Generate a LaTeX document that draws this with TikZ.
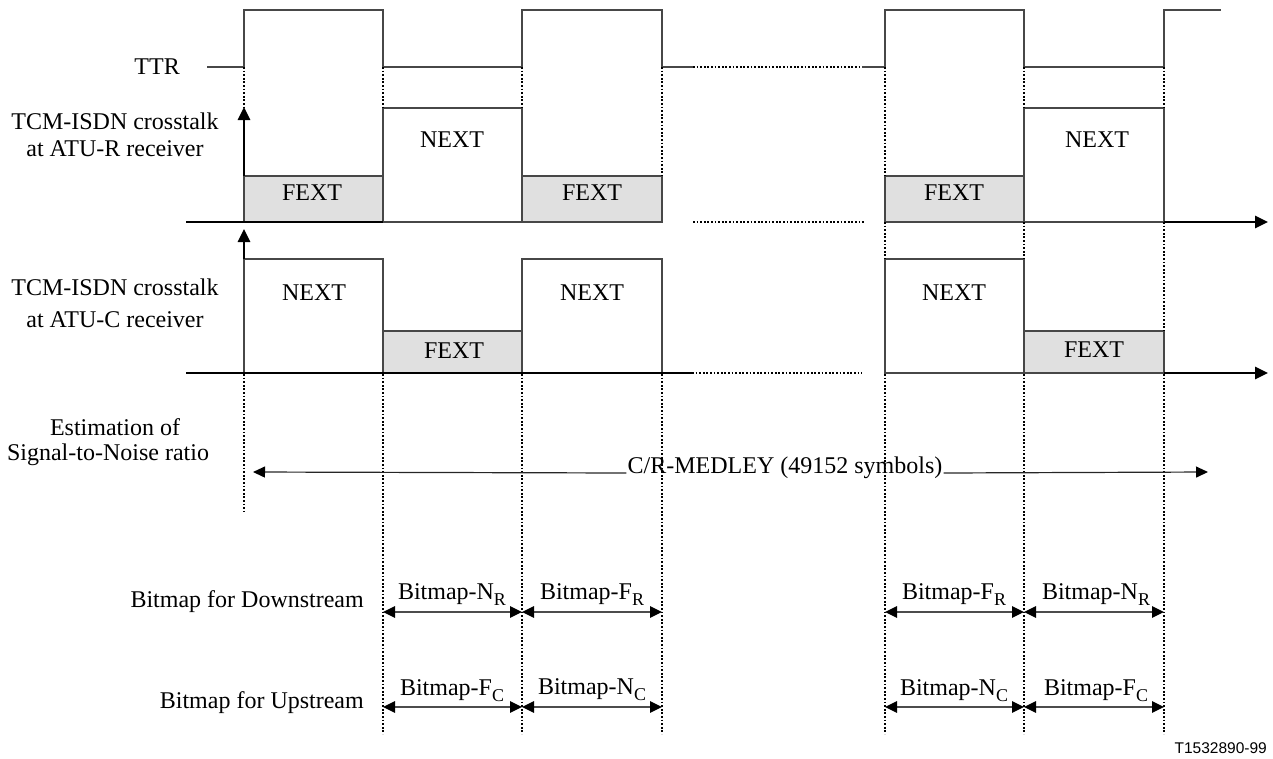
\documentclass[tikz,border=0pt]{standalone}
\usepackage{fontspec}
\setmainfont{Liberation Serif}
\newfontfamily\sansf{Liberation Sans}
\usetikzlibrary{arrows.meta}
\newcommand\bsub[1]{\raisebox{-6.5pt}{\fontsize{18}{18}\selectfont #1}}
\begin{document}
\begin{tikzpicture}[x=1pt,y=-1pt,
  lbl/.style={font=\fontsize{24}{26}\selectfont, inner sep=0pt},
  sig/.style={line width=1.4pt, draw=black!72},
  boxn/.style={line width=1.4pt, draw=black!72, fill=white},
  boxf/.style={line width=1.4pt, draw=black!72, fill=black!12},
  axln/.style={line width=2.6pt, black},
  axarrow/.style={line width=2.6pt, black, -{Triangle[length=13pt,width=12pt]}},
  dotln/.style={line width=2pt, dash pattern=on 1.8pt off 1.8pt, black},
  thinarrow/.style={line width=1.2pt, draw=black!85, -{Triangle[length=12pt,width=11pt,color=black]}},
  dbl/.style={line width=1.3pt, draw=black!70, {Triangle[length=12pt,width=11.5pt,color=black]}-{Triangle[length=12pt,width=11.5pt,color=black]}},
]
\useasboundingbox (0,0) rectangle (1273,758);

% ---------- TTR signal ----------
\node[lbl, anchor=base east] (ttr) at (180,74) {TTR};
\draw[sig] (207,67) -- (244,67) -- (244,10) -- (383,10) -- (383,67) -- (522,67)
  -- (522,10) -- (662,10) -- (662,67) -- (693,67);
\draw[dotln] (693,67) -- (862,67);
\draw[sig] (862,67) -- (885,67) -- (885,10) -- (1024,10) -- (1024,67) -- (1164,67)
  -- (1164,10) -- (1221,10);

% ---------- ATU-R crosstalk ----------
\node[lbl, anchor=base] (ra) at (115,129) {TCM-ISDN crosstalk};
\node[lbl, anchor=base] (rb) at (115,156) {at ATU-R receiver};
\draw[boxf] (244,176) rectangle (383,222);
\draw[boxn] (383,108) rectangle (522,222);
\draw[boxf] (522,176) rectangle (662,222);
\draw[boxf] (885,176) rectangle (1024,222);
\draw[boxn] (1024,108) rectangle (1164,222);
\node[lbl, anchor=base] (rf1) at (312,200) {FEXT};
\node[lbl, anchor=base] (rn1) at (452,147) {NEXT};
\node[lbl, anchor=base] (rf2) at (592,200) {FEXT};
\node[lbl, anchor=base] (rf3) at (954,200) {FEXT};
\node[lbl, anchor=base] (rn2) at (1097,147) {NEXT};
\coordinate (uL) at (186,222);
\coordinate (uA) at (244,222);
\coordinate (uE) at (1164,222);
\coordinate (uR) at (1268,222);
\draw[axln] (uL) -- (uA);
\draw[axln] (244,222) -- (383,222);
\draw[dotln] (693,222) -- (865,222);
\draw[axarrow] (uE) -- (uR);
\draw[axarrow] (244,176) -- (244,107);

% ---------- ATU-C crosstalk ----------
\node[lbl, anchor=base] (ca) at (115,295) {TCM-ISDN crosstalk};
\node[lbl, anchor=base] (cb) at (115,327) {at ATU-C receiver};
\draw[boxn] (244,259) rectangle (383,373);
\draw[boxf] (383,331) rectangle (522,373);
\draw[boxn] (522,259) rectangle (662,373);
\draw[boxn] (885,259) rectangle (1024,373);
\draw[boxf] (1024,331) rectangle (1164,373);
\node[lbl, anchor=base] (cn1) at (314,300) {NEXT};
\node[lbl, anchor=base] (cf1) at (454,358) {FEXT};
\node[lbl, anchor=base] (cn2) at (592,300) {NEXT};
\node[lbl, anchor=base] (cn3) at (954,300) {NEXT};
\node[lbl, anchor=base] (cf2) at (1094,357) {FEXT};
\coordinate (lL) at (186,373);
\coordinate (lA) at (244,373);
\coordinate (lE) at (1164,373);
\coordinate (lR) at (1268,373);
\draw[axln] (lL) -- (lA);
\draw[axln] (244,373) -- (662,373);
\draw[axln] (662,373) -- (692,373);
\draw[dotln] (692,373) -- (862,373);
\draw[axarrow] (lE) -- (lR);
\draw[axarrow] (244,259) -- (244,229);

% ---------- dotted verticals ----------
\draw[dotln] (244,67) -- (244,107);
\draw[dotln] (244,374) -- (244,511);
\foreach \x in {383,522,1024,1164} { \draw[dotln] (\x,67) -- (\x,108); }
\foreach \x in {662,885} { \draw[dotln] (\x,67) -- (\x,176); }
\draw[dotln] (885,222) -- (885,259);
\draw[dotln] (1024,222) -- (1024,259);
\draw[dotln] (1164,222) -- (1164,331);
\foreach \x in {383,522,662,885,1024,1164} { \draw[dotln] (\x,374) -- (\x,734); }

% ---------- SNR estimation ----------
\node[lbl, anchor=base] (sa) at (115,435) {Estimation of};
\node[lbl, anchor=base] (sb) at (108,460) {Signal-to-Noise ratio};
\node[lbl, anchor=base, inner sep=1pt] (medley) at (785,473) {C/R-MEDLEY (49152 symbols)};
\coordinate (mL) at (253,472);
\coordinate (mR) at (1208,472);
\draw[thinarrow] (medley.base west) -- (mL);
\draw[thinarrow] (medley.base east) -- (mR);

% ---------- Bitmaps ----------
\node[lbl, anchor=base east] (bd) at (364,607) {Bitmap for Downstream};
\node[lbl, anchor=base east] (bu) at (364,708) {Bitmap for Upstream};
\foreach \a/\b/\n in {383/522/1,522/662/2,885/1024/3,1024/1164/4} {
  \coordinate (d\n L) at (\a,612);
  \coordinate (d\n R) at (\b,612);
  \draw[dbl] (d\n L) -- (d\n R);
  \coordinate (u\n L) at (\a,707);
  \coordinate (u\n R) at (\b,707);
  \draw[dbl] (u\n L) -- (u\n R);
}
\node[lbl, anchor=base] (dl1) at (452,599) {Bitmap-N\bsub{R}};
\node[lbl, anchor=base] (dl2) at (592,599) {Bitmap-F\bsub{R}};
\node[lbl, anchor=base] (dl3) at (954,599) {Bitmap-F\bsub{R}};
\node[lbl, anchor=base] (dl4) at (1096,599) {Bitmap-N\bsub{R}};
\node[lbl, anchor=base] (ul1) at (452,695) {Bitmap-F\bsub{C}};
\node[lbl, anchor=base] (ul2) at (592,694) {Bitmap-N\bsub{C}};
\node[lbl, anchor=base] (ul3) at (954,695) {Bitmap-N\bsub{C}};
\node[lbl, anchor=base] (ul4) at (1096,695) {Bitmap-F\bsub{C}};

\node[font=\sansf\fontsize{15.5}{16}\selectfont, anchor=base east, inner sep=0pt] (tag) at (1267,753) {T1532890-99};
\end{tikzpicture}
\end{document}
